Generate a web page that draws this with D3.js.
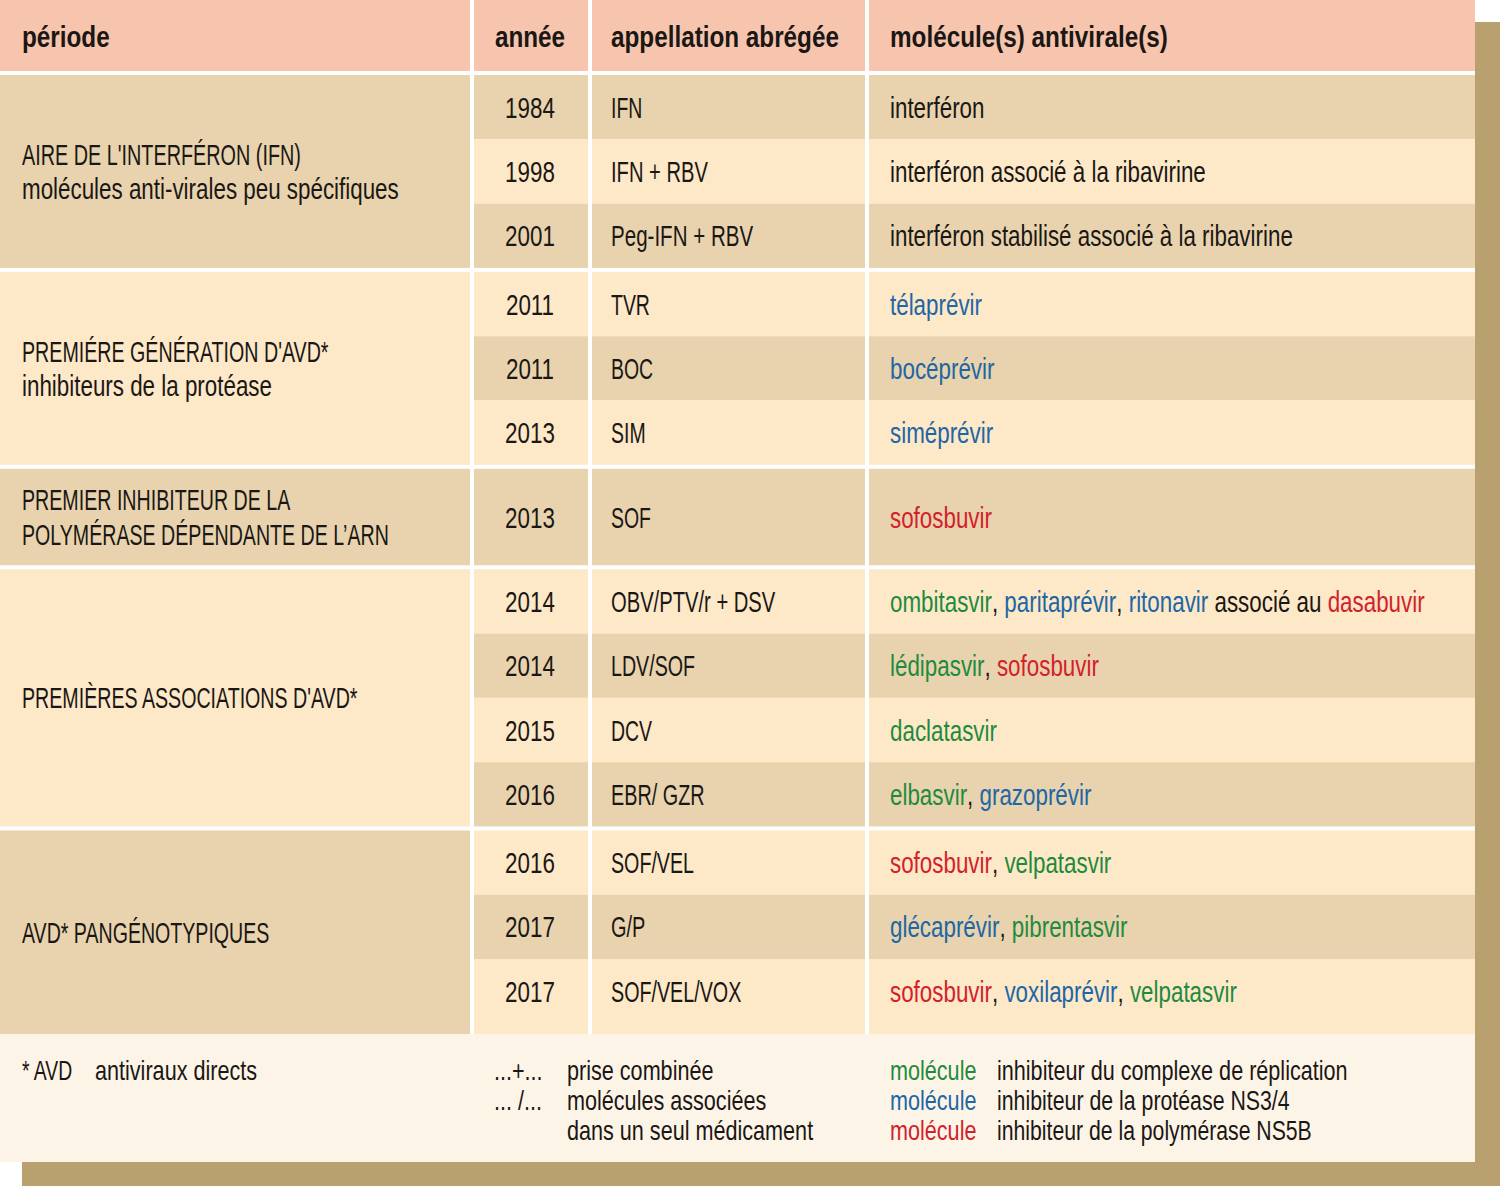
<!DOCTYPE html>
<html><head><meta charset="utf-8">
<script src="https://cdn.jsdelivr.net/npm/d3@7"></script>
<style>html,body{margin:0;padding:0;background:#fff;}svg{display:block;}</style>
</head><body><svg id="c" width="1500" height="1186"></svg>
<script>
// ---------- DATA ----------
const headers = ["période", "année", "appellation abrégée", "molécule(s) antivirale(s)"];
const periodLabels = [
  ["AIRE DE L'INTERFÉRON (IFN)", "molécules anti-virales peu spécifiques"],
  ["PREMIÉRE GÉNÉRATION D'AVD*", "inhibiteurs de la protéase"],
  ["PREMIER INHIBITEUR DE LA", "POLYMÉRASE DÉPENDANTE DE L’ARN"],
  ["PREMIÈRES ASSOCIATIONS D'AVD*"],
  ["AVD* PANGÉNOTYPIQUES"]
];
const periodOfRow = [0,0,0,1,1,1,2,3,3,3,3,4,4,4];
const years = ["1984","1998","2001","2011","2011","2013","2013","2014","2014","2015","2016","2016","2017","2017"];
const abbreviations = ["IFN","IFN + RBV","Peg-IFN + RBV","TVR","BOC","SIM","SOF","OBV/PTV/r + DSV","LDV/SOF","DCV","EBR/ GZR","SOF/VEL","G/P","SOF/VEL/VOX"];
// k = neutral, g = replication complex inhibitor, b = NS3/4 protease inhibitor, r = NS5B polymerase inhibitor
const molecules = [
  [["interféron","k"]],
  [["interféron associé à la ribavirine","k"]],
  [["interféron stabilisé associé à la ribavirine","k"]],
  [["télaprévir","b"]],
  [["bocéprévir","b"]],
  [["siméprévir","b"]],
  [["sofosbuvir","r"]],
  [["ombitasvir","g"],[", ","k"],["paritaprévir","b"],[", ","k"],["ritonavir","b"],[" associé au ","k"],["dasabuvir","r"]],
  [["lédipasvir","g"],[", ","k"],["sofosbuvir","r"]],
  [["daclatasvir","g"]],
  [["elbasvir","g"],[", ","k"],["grazoprévir","b"]],
  [["sofosbuvir","r"],[", ","k"],["velpatasvir","g"]],
  [["glécaprévir","b"],[", ","k"],["pibrentasvir","g"]],
  [["sofosbuvir","r"],[", ","k"],["voxilaprévir","b"],[", ","k"],["velpatasvir","g"]]
];
const footnoteAbbr = [["* AVD", "antiviraux directs"]];
const footnoteSymbols = [["...+...", "prise combinée"], ["... /...", "molécules associées"], ["", "dans un seul médicament"]];
const footnoteColors = [["g", "inhibiteur du complexe de réplication"], ["b", "inhibiteur de la protéase NS3/4"], ["r", "inhibiteur de la polymérase NS5B"]];

// ---------- STYLE ----------
const colorOf = {k:"#1a1714", g:"#1f8a3d", b:"#2166a4", r:"#d3212b"};
const DARK = "#e8d3ae", LIGHT = "#fde8c8", HEAD = "#f7c4ae", FOOT = "#fdf4e8", SHADOW = "#b9a06f";
const FONT = "'Liberation Sans Narrow','Liberation Sans',Arial,sans-serif";
const FS = 29, FSF = 28;

const svg = d3.select("#c");

// measure to emulate a condensed face (capitals are narrower in the original face)
const cache = new Map();
function measure(str, weight, size){
  const key = str + "|" + weight + "|" + size;
  if (cache.has(key)) return cache.get(key);
  const t = svg.append("text").attr("font-family", FONT).attr("font-size", size).attr("font-weight", weight)
    .style("white-space", "pre").text(str);
  const w = t.node().getComputedTextLength(); t.remove(); cache.set(key, w); return w;
}
const SX = 403 / measure("interféron stabilisé associé à la ribavirine", 400, FS);
const SXB = 228 / measure("appellation abrégée", 700, FS);
const CAPS = 0.13;
function scaleFor(str, weight, size){
  const base = weight === 700 ? SXB : SX;
  const w = measure(str, weight, size);
  if (!w) return base;
  let wc = 0;
  for (const ch of str) if (/[A-ZÀ-ÝŒ]/.test(ch)) wc += measure(ch, weight, size);
  return base * (w - CAPS * wc) / w;
}

function label(parent, x, y, segs, opts = {}){
  const weight = opts.bold ? 700 : 400, size = opts.size || FS;
  const full = segs.map(s => s[0]).join("");
  const g = parent.append("g").attr("transform", `translate(${x},${y}) scale(${scaleFor(full, weight, size)},1)`);
  const t = g.append("text").attr("font-family", FONT).attr("font-size", size)
    .attr("font-weight", weight).attr("text-anchor", opts.anchor || "start")
    .attr("fill", colorOf.k).style("white-space", "pre");
  segs.forEach(([s, c]) => t.append("tspan").attr("fill", colorOf[c]).text(s));
  return t;
}

// ---------- LAYOUT ----------
const W = 1475, GAP = 4;
const colEdges = [0, 472, 590, 867, W]; // column x extents
const colX = d3.scaleOrdinal().domain(d3.range(4)).range([22, 530, 611, 890]);
const headerH = 71, top0 = headerH + GAP;
const nGroups = periodLabels.length;
// row units: single-row groups are 1.5 units tall
const rowUnits = years.map((_, i) => periodOfRow.filter(p => p === periodOfRow[i]).length === 1 ? 1.5 : 1);
const cumUnits = [0]; rowUnits.forEach(u => cumUnits.push(cumUnits[cumUnits.length - 1] + u));
const tableBottom = 1034;
const rowH = 64.3;
const yU = d3.scaleLinear().domain([0, 1]).range([0, rowH]);
const rowTop = i => top0 + yU(cumUnits[i]) + GAP * periodOfRow[i];
const rowBot = i => (i === years.length - 1) ? tableBottom : top0 + yU(cumUnits[i + 1]) + GAP * periodOfRow[i];

// shadow
svg.append("rect").attr("x", 22).attr("y", 22).attr("width", 1500 - 22).attr("height", 1186 - 22).attr("fill", SHADOW);
svg.append("rect").attr("x", 0).attr("y", 0).attr("width", W).attr("height", 1162).attr("fill", "#ffffff");

// header
d3.range(4).forEach(c => {
  svg.append("rect").attr("x", colEdges[c] + (c ? GAP / 2 : 0)).attr("y", 0)
    .attr("width", colEdges[c + 1] - colEdges[c] - (c ? GAP / 2 : 0) - (c < 3 ? GAP / 2 : 0)).attr("height", headerH).attr("fill", HEAD);
  label(svg, colX(c), 47, [[headers[c], "k"]], {bold: true, anchor: c === 1 ? "middle" : "start"});
});

// data rows
years.forEach((yr, i) => {
  const y0 = rowTop(i), y1 = rowBot(i);
  const fill = i % 2 === 0 ? DARK : LIGHT;
  [1, 2, 3].forEach(c => {
    svg.append("rect").attr("x", colEdges[c] + GAP / 2).attr("y", y0)
      .attr("width", colEdges[c + 1] - colEdges[c] - GAP / 2 - (c < 3 ? GAP / 2 : 0)).attr("height", y1 - y0).attr("fill", fill);
  });
  const cy = y0 + yU(rowUnits[i]) / 2 + 10.5;
  label(svg, colX(1), cy, [[yr, "k"]], {anchor: "middle"});
  label(svg, colX(2), cy, [[abbreviations[i], "k"]]);
  label(svg, colX(3), cy, molecules[i]);
});

// period cells
d3.range(nGroups).forEach(p => {
  const rows = d3.range(years.length).filter(i => periodOfRow[i] === p);
  const y0 = rowTop(rows[0]), y1 = rowBot(rows[rows.length - 1]);
  svg.append("rect").attr("x", 0).attr("y", y0).attr("width", colEdges[1] - GAP / 2).attr("height", y1 - y0)
    .attr("fill", p % 2 === 0 ? DARK : LIGHT);
  const lines = periodLabels[p];
  const mid = (y0 + y1) / 2, lh = 34.5;
  lines.forEach((ln, k) => {
    label(svg, colX(0), mid + (k - (lines.length - 1) / 2) * lh + 10.5, [[ln, "k"]]);
  });
});

// footer
svg.append("rect").attr("x", 0).attr("y", tableBottom).attr("width", W).attr("height", 1162 - tableBottom).attr("fill", FOOT);
const fy = d3.scaleLinear().domain([0, 1]).range([1079.5, 1109.8]);
footnoteAbbr.forEach(([a, b], k) => {
  label(svg, 22, fy(k), [[a, "k"]], {size: FSF});
  label(svg, 95, fy(k), [[b, "k"]], {size: FSF});
});
footnoteSymbols.forEach(([a, b], k) => {
  if (a) label(svg, 494, fy(k), [[a, "k"]], {size: FSF});
  label(svg, 567, fy(k), [[b, "k"]], {size: FSF});
});
footnoteColors.forEach(([c, b], k) => {
  label(svg, 890, fy(k), [["molécule", c]], {size: FSF});
  label(svg, 997, fy(k), [[b, "k"]], {size: FSF});
});
</script></body></html>
